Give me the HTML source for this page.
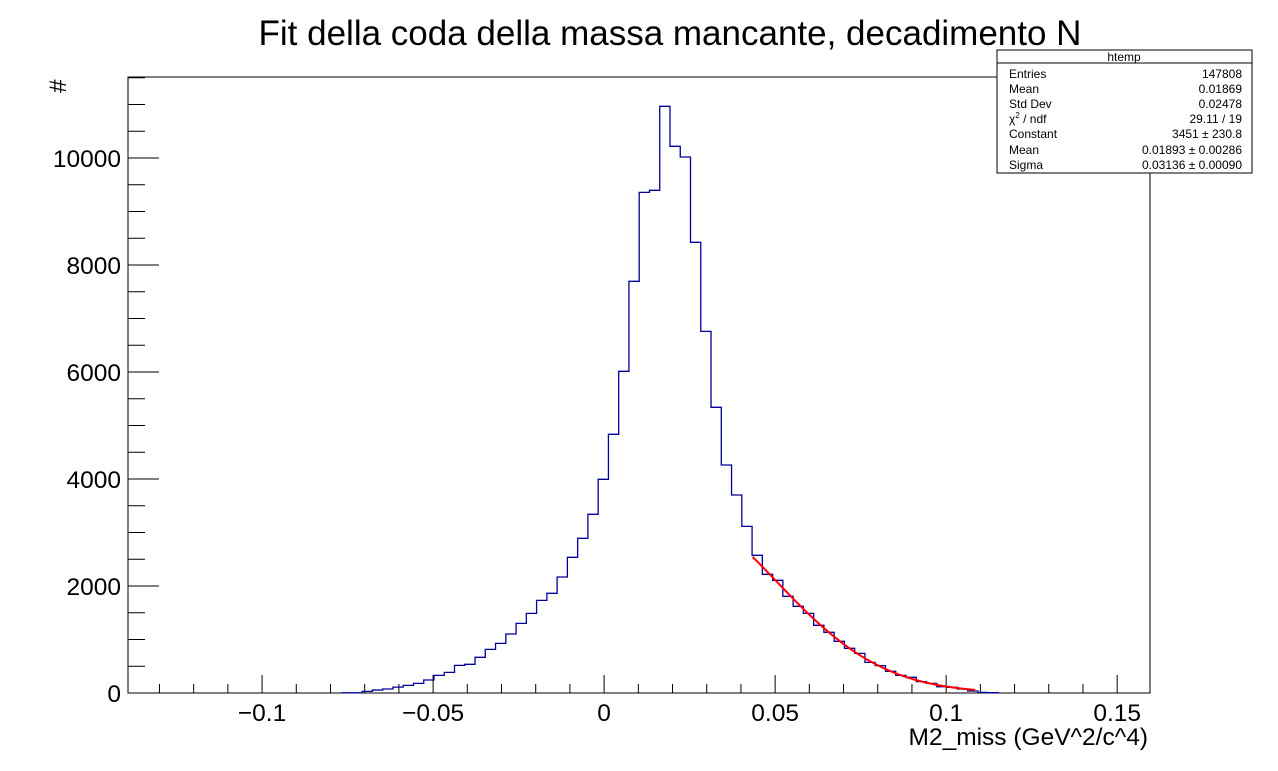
<!DOCTYPE html>
<html><head><meta charset="utf-8"><style>
html,body{margin:0;padding:0;background:#fff;}
svg{display:block;font-family:"Liberation Sans",sans-serif;}
</style></head><body>
<svg id="chart" width="1278" height="771" viewBox="0 0 1278 771">
<rect width="1278" height="771" fill="#fff"/>
<text x="670" y="45" font-size="35" text-anchor="middle">Fit della coda della massa mancante, decadimento N</text>
<text x="58" y="94" font-size="24" text-anchor="middle" transform="rotate(-90 58 86)">#</text>
<text x="1148" y="745" font-size="24.5" text-anchor="end">M2_miss (GeV^2/c^4)</text>
<rect x="128" y="77" width="1022" height="616" fill="none" stroke="#000" stroke-width="1"/>
<g id="axes"></g>
<g id="marks"></g>
<g font-size="12">
<rect x="997" y="50" width="255" height="123" fill="#fff" stroke="#000"/>
<line x1="997" y1="63" x2="1252" y2="63" stroke="#000"/>
<text x="1124" y="61" text-anchor="middle">htemp</text>
<text x="1009" y="78">Entries</text><text x="1242" y="78" text-anchor="end">147808</text>
<text x="1009" y="93">Mean</text><text x="1242" y="93" text-anchor="end">0.01869</text>
<text x="1009" y="108">Std Dev</text><text x="1242" y="108" text-anchor="end">0.02478</text>
<text x="1009" y="123">χ<tspan font-size="8" dy="-5">2</tspan><tspan dy="5"> / ndf</tspan></text><text x="1242" y="123" text-anchor="end">29.11 / 19</text>
<text x="1009" y="138">Constant</text><text x="1242" y="138" text-anchor="end">3451 ± 230.8</text>
<text x="1009" y="154">Mean</text><text x="1242" y="154" text-anchor="end">0.01893 ± 0.00286</text>
<text x="1009" y="169">Sigma</text><text x="1242" y="169" text-anchor="end">0.03136 ± 0.00090</text>
</g>
</svg>
<script>
const binStart = -0.07674;
const binWidth = 0.003;
const counts = [5,5,30,55,75,110,143,180,243,330,386,517,536,667,816,928,1103,1302,1489,1732,1863,2168,2536,2891,3340,3994,
4835,6013,7695,9358,9396,10966,10218,10019,8424,6760,5340,4262,3701,3115,2574,
2218,2106,1807,1620,1489,1265,1134,966,835,741,573,511,405,330,293,212,180,118,106,75,37,12,6];
const fitParams = [3451, 0.01893, 0.03136];
const fitRange = [0.0434, 0.1085];
const xTicks = [-0.1,-0.05,0,0.05,0.1,0.15];
const xTickLabels = ["\u22120.1","\u22120.05","0","0.05","0.1","0.15"];
const yTicks = [0,2000,4000,6000,8000,10000];
const yTickLabels = ["0","2000","4000","6000","8000","10000"];

const X0=128,X1=1150,Y0=693,Y1=77;
const xmin=-0.1392, xmax=0.1596, ymin=0, ymax=11514;
const sx=v=>X0+(v-xmin)/(xmax-xmin)*(X1-X0);
const sy=v=>Y0-(v-ymin)/(ymax-ymin)*(Y0-Y1);
const NS="http://www.w3.org/2000/svg";
const axes=document.getElementById('axes'), marks=document.getElementById('marks');
function mk(tag,attrs,parent){const e=document.createElementNS(NS,tag);for(const k in attrs)e.setAttribute(k,attrs[k]);parent.appendChild(e);return e;}

for(let i=-13;i<=15;i++){
  const v=i*0.01; const x=sx(v); const major=(i%5===0);
  const t=mk('line',{x1:x,x2:x,y1:Y0,y2:Y0-(major?18:9),stroke:'#000'},axes);
  
  
}
xTicks.forEach((v,i)=>{
  const t=mk('text',{x:sx(v),y:721,'font-size':24.5,'text-anchor':'middle'},axes);
  t.textContent=xTickLabels[i];
  
  
});
for(let v=0;v<=11500;v+=500){
  const y=sy(v); const major=(v%2000===0);
  const t=mk('line',{x1:X0,x2:X0+(major?31:17),y1:y,y2:y,stroke:'#000'},axes);
  
  
}
yTicks.forEach((v,i)=>{
  const t=mk('text',{x:121,y:sy(v)+9,'font-size':24.5,'text-anchor':'end'},axes);
  t.textContent=yTickLabels[i];
  
  
});
let d='M'+sx(binStart)+','+sy(0);
counts.forEach((c,i)=>{
  const a=sx(binStart+i*binWidth), b=sx(binStart+(i+1)*binWidth);
  d+=' L'+a+','+sy(c)+' L'+b+','+sy(c);
});
d+=' L'+sx(binStart+counts.length*binWidth)+','+sy(0);
const h=mk('path',{d:d,fill:'none',stroke:'#00009c','stroke-width':1.3},marks);


let fd='';
for(let k=0;k<=100;k++){
  const v=fitRange[0]+(fitRange[1]-fitRange[0])*k/100;
  const f=fitParams[0]*Math.exp(-0.5*Math.pow((v-fitParams[1])/fitParams[2],2));
  fd+=(k?' L':'M')+sx(v)+','+sy(f);
}
const fl=mk('path',{d:fd,fill:'none',stroke:'#ff0000','stroke-width':2},marks);


</script>
</body></html>
